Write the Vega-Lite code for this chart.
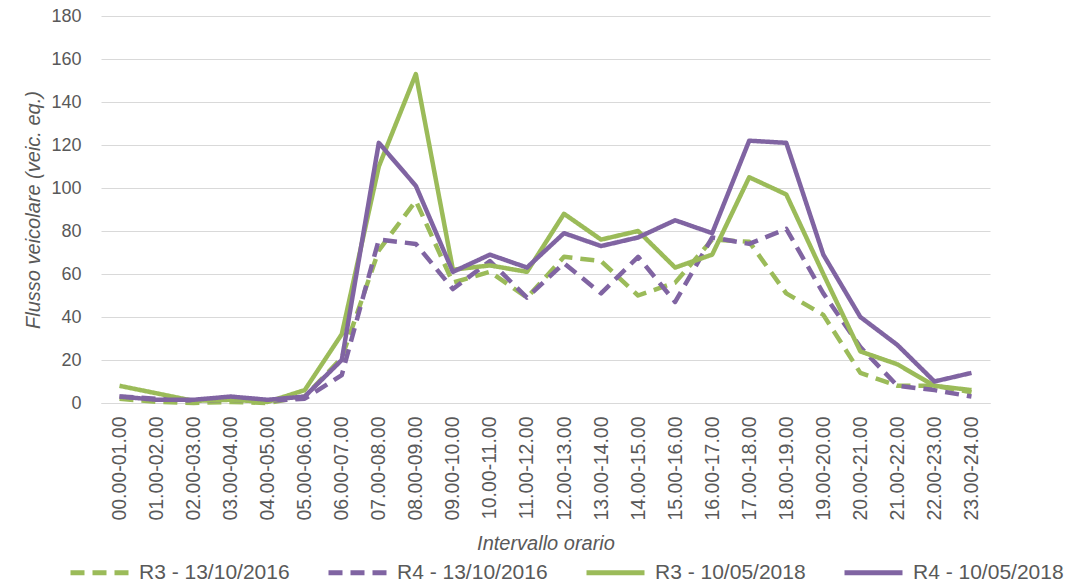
{
  "$schema": "https://vega.github.io/schema/vega-lite/v6.json",
  "width": 889,
  "height": 387,
  "autosize": "none",
  "padding": {"left": 101, "top": 16, "right": 76, "bottom": 181},
  "background": "white",
  "config": {"view": {"stroke": null}, "font": "Liberation Sans"},
  "datasets": {
    "rows": [
      {"h":"00.00-01.00","s":"R3 - 13/10/2016","v":2},
      {"h":"01.00-02.00","s":"R3 - 13/10/2016","v":0.5},
      {"h":"02.00-03.00","s":"R3 - 13/10/2016","v":0},
      {"h":"03.00-04.00","s":"R3 - 13/10/2016","v":0.5},
      {"h":"04.00-05.00","s":"R3 - 13/10/2016","v":0},
      {"h":"05.00-06.00","s":"R3 - 13/10/2016","v":3},
      {"h":"06.00-07.00","s":"R3 - 13/10/2016","v":21},
      {"h":"07.00-08.00","s":"R3 - 13/10/2016","v":71},
      {"h":"08.00-09.00","s":"R3 - 13/10/2016","v":94},
      {"h":"09.00-10.00","s":"R3 - 13/10/2016","v":56},
      {"h":"10.00-11.00","s":"R3 - 13/10/2016","v":61},
      {"h":"11.00-12.00","s":"R3 - 13/10/2016","v":49},
      {"h":"12.00-13.00","s":"R3 - 13/10/2016","v":68},
      {"h":"13.00-14.00","s":"R3 - 13/10/2016","v":66},
      {"h":"14.00-15.00","s":"R3 - 13/10/2016","v":50},
      {"h":"15.00-16.00","s":"R3 - 13/10/2016","v":56},
      {"h":"16.00-17.00","s":"R3 - 13/10/2016","v":76},
      {"h":"17.00-18.00","s":"R3 - 13/10/2016","v":75},
      {"h":"18.00-19.00","s":"R3 - 13/10/2016","v":51},
      {"h":"19.00-20.00","s":"R3 - 13/10/2016","v":41},
      {"h":"20.00-21.00","s":"R3 - 13/10/2016","v":14},
      {"h":"21.00-22.00","s":"R3 - 13/10/2016","v":8},
      {"h":"22.00-23.00","s":"R3 - 13/10/2016","v":8},
      {"h":"23.00-24.00","s":"R3 - 13/10/2016","v":5},
      {"h":"00.00-01.00","s":"R4 - 13/10/2016","v":3},
      {"h":"01.00-02.00","s":"R4 - 13/10/2016","v":2},
      {"h":"02.00-03.00","s":"R4 - 13/10/2016","v":1},
      {"h":"03.00-04.00","s":"R4 - 13/10/2016","v":1.5},
      {"h":"04.00-05.00","s":"R4 - 13/10/2016","v":1},
      {"h":"05.00-06.00","s":"R4 - 13/10/2016","v":2},
      {"h":"06.00-07.00","s":"R4 - 13/10/2016","v":13},
      {"h":"07.00-08.00","s":"R4 - 13/10/2016","v":76},
      {"h":"08.00-09.00","s":"R4 - 13/10/2016","v":74},
      {"h":"09.00-10.00","s":"R4 - 13/10/2016","v":53},
      {"h":"10.00-11.00","s":"R4 - 13/10/2016","v":66},
      {"h":"11.00-12.00","s":"R4 - 13/10/2016","v":49},
      {"h":"12.00-13.00","s":"R4 - 13/10/2016","v":65},
      {"h":"13.00-14.00","s":"R4 - 13/10/2016","v":51},
      {"h":"14.00-15.00","s":"R4 - 13/10/2016","v":68},
      {"h":"15.00-16.00","s":"R4 - 13/10/2016","v":47},
      {"h":"16.00-17.00","s":"R4 - 13/10/2016","v":77},
      {"h":"17.00-18.00","s":"R4 - 13/10/2016","v":74},
      {"h":"18.00-19.00","s":"R4 - 13/10/2016","v":81},
      {"h":"19.00-20.00","s":"R4 - 13/10/2016","v":51},
      {"h":"20.00-21.00","s":"R4 - 13/10/2016","v":26},
      {"h":"21.00-22.00","s":"R4 - 13/10/2016","v":8},
      {"h":"22.00-23.00","s":"R4 - 13/10/2016","v":6},
      {"h":"23.00-24.00","s":"R4 - 13/10/2016","v":3},
      {"h":"00.00-01.00","s":"R3 - 10/05/2018","v":8},
      {"h":"01.00-02.00","s":"R3 - 10/05/2018","v":4.5},
      {"h":"02.00-03.00","s":"R3 - 10/05/2018","v":1},
      {"h":"03.00-04.00","s":"R3 - 10/05/2018","v":1.5},
      {"h":"04.00-05.00","s":"R3 - 10/05/2018","v":0.5},
      {"h":"05.00-06.00","s":"R3 - 10/05/2018","v":6},
      {"h":"06.00-07.00","s":"R3 - 10/05/2018","v":32},
      {"h":"07.00-08.00","s":"R3 - 10/05/2018","v":110},
      {"h":"08.00-09.00","s":"R3 - 10/05/2018","v":153},
      {"h":"09.00-10.00","s":"R3 - 10/05/2018","v":62},
      {"h":"10.00-11.00","s":"R3 - 10/05/2018","v":64},
      {"h":"11.00-12.00","s":"R3 - 10/05/2018","v":61},
      {"h":"12.00-13.00","s":"R3 - 10/05/2018","v":88},
      {"h":"13.00-14.00","s":"R3 - 10/05/2018","v":76},
      {"h":"14.00-15.00","s":"R3 - 10/05/2018","v":80},
      {"h":"15.00-16.00","s":"R3 - 10/05/2018","v":63},
      {"h":"16.00-17.00","s":"R3 - 10/05/2018","v":69},
      {"h":"17.00-18.00","s":"R3 - 10/05/2018","v":105},
      {"h":"18.00-19.00","s":"R3 - 10/05/2018","v":97},
      {"h":"19.00-20.00","s":"R3 - 10/05/2018","v":60},
      {"h":"20.00-21.00","s":"R3 - 10/05/2018","v":24},
      {"h":"21.00-22.00","s":"R3 - 10/05/2018","v":18},
      {"h":"22.00-23.00","s":"R3 - 10/05/2018","v":8},
      {"h":"23.00-24.00","s":"R3 - 10/05/2018","v":6},
      {"h":"00.00-01.00","s":"R4 - 10/05/2018","v":3},
      {"h":"01.00-02.00","s":"R4 - 10/05/2018","v":1.5},
      {"h":"02.00-03.00","s":"R4 - 10/05/2018","v":1.5},
      {"h":"03.00-04.00","s":"R4 - 10/05/2018","v":3},
      {"h":"04.00-05.00","s":"R4 - 10/05/2018","v":1.5},
      {"h":"05.00-06.00","s":"R4 - 10/05/2018","v":3},
      {"h":"06.00-07.00","s":"R4 - 10/05/2018","v":20},
      {"h":"07.00-08.00","s":"R4 - 10/05/2018","v":121},
      {"h":"08.00-09.00","s":"R4 - 10/05/2018","v":101},
      {"h":"09.00-10.00","s":"R4 - 10/05/2018","v":61},
      {"h":"10.00-11.00","s":"R4 - 10/05/2018","v":69},
      {"h":"11.00-12.00","s":"R4 - 10/05/2018","v":63},
      {"h":"12.00-13.00","s":"R4 - 10/05/2018","v":79},
      {"h":"13.00-14.00","s":"R4 - 10/05/2018","v":73},
      {"h":"14.00-15.00","s":"R4 - 10/05/2018","v":77},
      {"h":"15.00-16.00","s":"R4 - 10/05/2018","v":85},
      {"h":"16.00-17.00","s":"R4 - 10/05/2018","v":79},
      {"h":"17.00-18.00","s":"R4 - 10/05/2018","v":122},
      {"h":"18.00-19.00","s":"R4 - 10/05/2018","v":121},
      {"h":"19.00-20.00","s":"R4 - 10/05/2018","v":69},
      {"h":"20.00-21.00","s":"R4 - 10/05/2018","v":40},
      {"h":"21.00-22.00","s":"R4 - 10/05/2018","v":27},
      {"h":"22.00-23.00","s":"R4 - 10/05/2018","v":10},
      {"h":"23.00-24.00","s":"R4 - 10/05/2018","v":14}
    ]
  },
  "data": {"name": "rows"},
  "mark": {"type": "line", "strokeWidth": 4.5, "strokeJoin": "round"},
  "encoding": {
    "x": {
      "field": "h", "type": "nominal", "sort": null,
      "scale": {"padding": 0.5},
      "axis": {
        "title": "Intervallo orario",
        "labelAngle": -90, "labelFontSize": 19.5, "labelColor": "#595959", "labelPadding": 13,
        "ticks": false, "domain": true, "domainColor": "#d9d9d9", "domainWidth": 1,
        "titleFontSize": 20, "titleFontStyle": "italic", "titleFontWeight": "normal",
        "titleColor": "#595959", "titlePadding": 13
      }
    },
    "y": {
      "field": "v", "type": "quantitative",
      "scale": {"domain": [0, 180], "nice": false},
      "axis": {
        "title": "Flusso veicolare (veic. eq.)",
        "values": [0, 20, 40, 60, 80, 100, 120, 140, 160, 180],
        "grid": true, "gridColor": "#d9d9d9", "gridWidth": 1,
        "domain": false, "ticks": false,
        "labelFontSize": 18, "labelColor": "#595959", "labelPadding": 20,
        "titleFontSize": 20, "titleFontStyle": "italic", "titleFontWeight": "normal",
        "titleColor": "#595959", "titlePadding": 7
      }
    },
    "color": {
      "field": "s", "type": "nominal",
      "scale": {
        "domain": ["R3 - 13/10/2016", "R4 - 13/10/2016", "R3 - 10/05/2018", "R4 - 10/05/2018"],
        "range": ["#9BBB59", "#8064A2", "#9BBB59", "#8064A2"]
      },
      "legend": {
        "title": null, "orient": "none", "legendX": -33, "legendY": 525,
        "direction": "horizontal", "symbolType": "stroke", "symbolSize": 3364,
        "symbolStrokeWidth": 5, "labelFontSize": 21, "labelColor": "#595959",
        "labelOffset": 8, "columnPadding": 28, "labelLimit": 300
      }
    },
    "strokeDash": {
      "field": "s", "type": "nominal",
      "scale": {
        "domain": ["R3 - 13/10/2016", "R4 - 13/10/2016", "R3 - 10/05/2018", "R4 - 10/05/2018"],
        "range": [[14, 8], [14, 8], [1, 0], [1, 0]]
      },
      "legend": {
        "title": null, "orient": "none", "legendX": -33, "legendY": 525,
        "direction": "horizontal", "symbolType": "stroke", "symbolSize": 3364,
        "symbolStrokeWidth": 5, "labelFontSize": 21, "labelColor": "#595959",
        "labelOffset": 8, "columnPadding": 28, "labelLimit": 300
      }
    }
  }
}
